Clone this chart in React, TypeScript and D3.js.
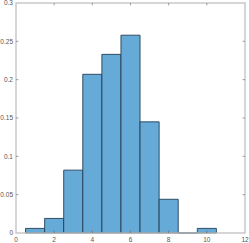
import React from "react";
import * as d3 from "d3";

// bin edges and normalized counts
const binStarts = [0.5, 1.5, 2.5, 3.5, 4.5, 5.5, 6.5, 7.5, 8.5, 9.5];
const binWidth = 1;
const binValues = [0.006, 0.019, 0.082, 0.207, 0.233, 0.258, 0.145, 0.044, 0, 0.006];
const xTicks = [0, 2, 4, 6, 8, 10, 12];
const yTicks = [0, 0.05, 0.1, 0.15, 0.2, 0.25, 0.3];

const App = () => {
  const w = 249;
  const h = 243;
  const left = 16;
  const right = 245;
  const top = 3;
  const bottom = 233;

  const x = d3.scaleLinear().domain([0, 12]).range([left, right]);
  const y = d3.scaleLinear().domain([0, 0.3]).range([bottom, top]);

  const axisColor = "#c0c0c0";
  const tickColor = "#666";
  const labelColor = "#555";
  const tl = 2.5;

  // path instead of rect so empty bins still show their bottom edge
  const barPath = (s: number, v: number) => {
    const x0 = x(s);
    const x1 = x(s + binWidth);
    const y0 = y(0);
    const y1 = y(v);
    return `M${x0},${y0}V${y1}H${x1}V${y0}Z`;
  };

  return (
    <svg
      width={w}
      height={h}
      style={{ position: "absolute", left: 0, top: 0, background: "#fff" }}
      fontFamily="Liberation Sans, Arial, sans-serif"
    >
      {binStarts.map((s, i) => (
        <path
          key={i}
          d={barPath(s, binValues[i])}
          fill="#66aad7"
          stroke="#243f55"
          strokeWidth={0.9}
        />
      ))}

      {/* box */}
      <rect
        x={left}
        y={top}
        width={right - left}
        height={bottom - top}
        fill="none"
        stroke={axisColor}
        strokeWidth={1.3}
      />

      {xTicks.map((t) => (
        <g key={"x" + t}>
          {t > 0 && t < 12 && (
            <>
              <line x1={x(t)} x2={x(t)} y1={bottom} y2={bottom - tl} stroke={tickColor} strokeWidth={0.6} />
              <line x1={x(t)} x2={x(t)} y1={top} y2={top + tl} stroke={tickColor} strokeWidth={0.6} />
            </>
          )}
          <text x={x(t)} y={242} fontSize={6.5} fill={labelColor} textAnchor="middle">
            {t}
          </text>
        </g>
      ))}

      {yTicks.map((t) => (
        <g key={"y" + t}>
          {t > 0 && t < 0.3 && (
            <>
              <line x1={left} x2={left + tl} y1={y(t)} y2={y(t)} stroke={tickColor} strokeWidth={0.6} />
              <line x1={right} x2={right - tl} y1={y(t)} y2={y(t)} stroke={tickColor} strokeWidth={0.6} />
            </>
          )}
          <text x={13} y={y(t) + 2.3} fontSize={6.5} fill={labelColor} textAnchor="end">
            {t}
          </text>
        </g>
      ))}
    </svg>
  );
};

export default App;
